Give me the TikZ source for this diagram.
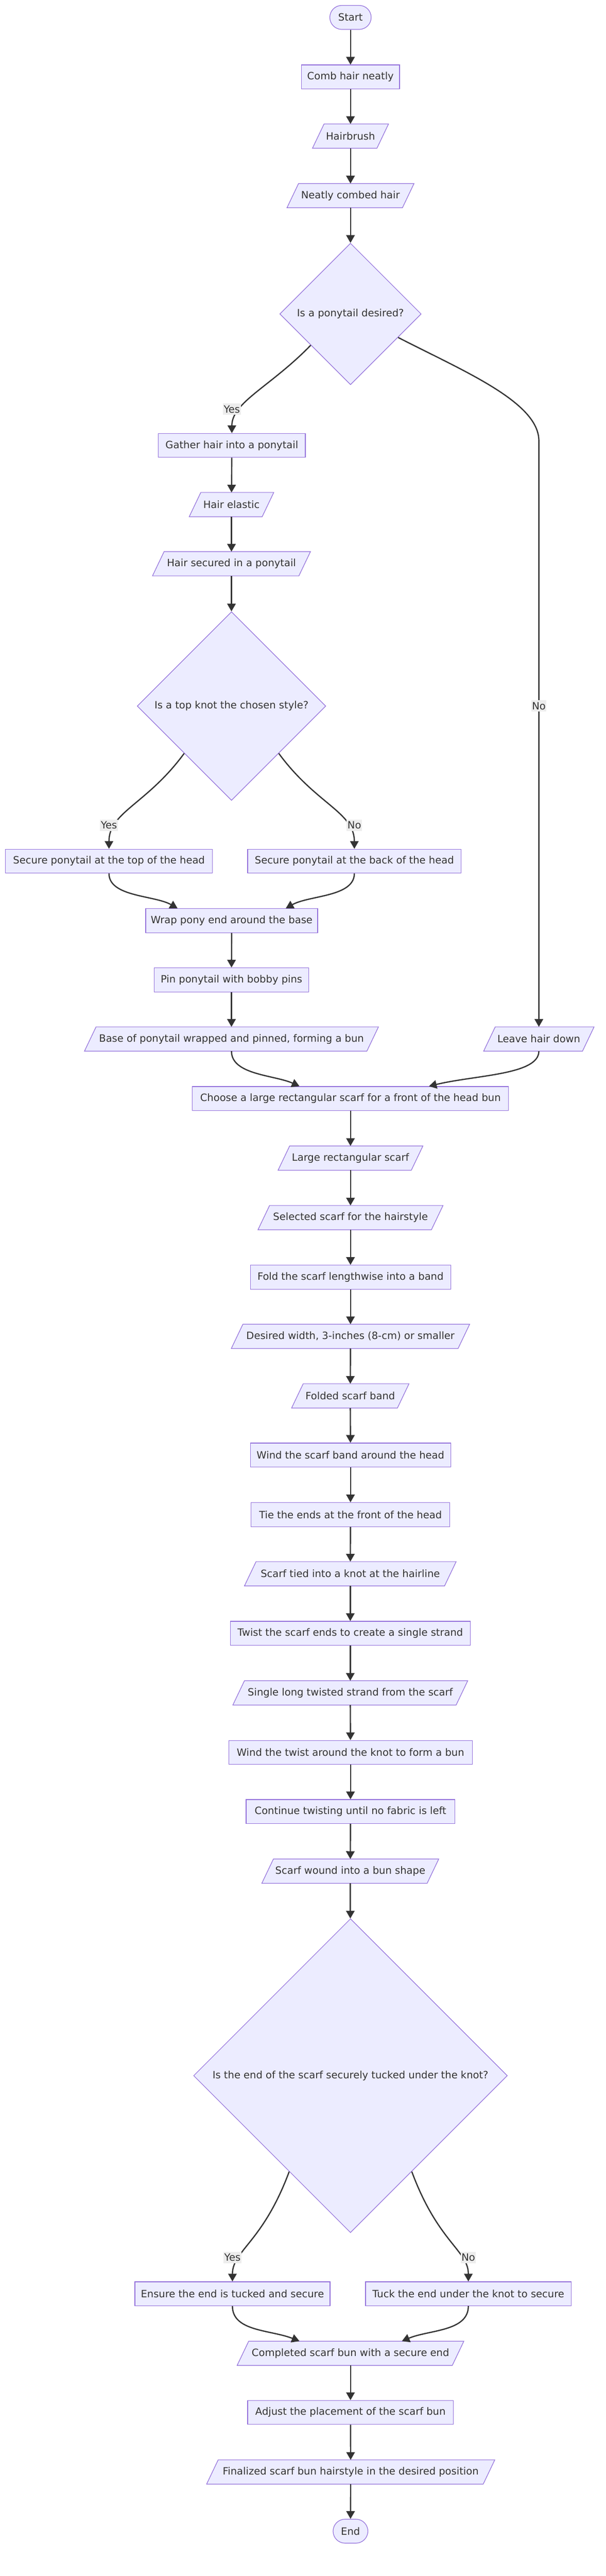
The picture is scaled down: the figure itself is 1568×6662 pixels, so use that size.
\documentclass[tikz,border=0pt]{standalone}
\usepackage{fontspec}
\setmainfont{DejaVu Sans}
\usetikzlibrary{shapes.geometric, arrows.meta, calc, backgrounds}
\definecolor{nodefill}{HTML}{ECECFF}
\definecolor{nodestroke}{HTML}{9370DB}
\definecolor{linecol}{HTML}{333333}
\definecolor{textcol}{HTML}{333333}
\definecolor{labelbg}{HTML}{EDEDED}
\newcommand\nfont{\fontsize{13pt}{15.6pt}\selectfont}
\tikzset{
  nodebase/.style={inner sep=0pt, minimum height=31pt, text=textcol, font=\nfont},
  proc/.style={nodebase, rectangle, draw=nodestroke, fill=nodefill, line width=0.8pt},
  io/.style={nodebase, rectangle},
  iobox/.style={draw=nodestroke, fill=nodefill, line width=0.8pt},
  term/.style={proc, rounded corners=15.5pt},
  decision/.style={nodebase, diamond, aspect=1, draw=nodestroke, fill=nodefill, line width=0.8pt},
  flow/.style={draw=linecol, line width=1.6pt, -{Triangle[length=10pt,width=11pt]}},
  elabel/.style={fill=labelbg, text=textcol, font=\nfont, inner xsep=1pt, inner ysep=2.5pt},
}
\begin{document}
\begin{tikzpicture}[x=0.5pt, y=-0.5pt]
\useasboundingbox (0,0) rectangle (1568,6662);

% nodes
\node[term, minimum width=53.5pt] (start) at (907,45) {Start};
\node[proc, minimum width=127pt] (comb) at (907,199) {Comb hair neatly};
\node[io, minimum width=98pt] (brush) at (907,352) {Hairbrush};
\node[io, minimum width=164pt] (neat) at (907,506) {Neatly combed hair};
\node[decision, minimum width=183pt, minimum height=183pt] (d1) at (907,812) {Is a ponytail desired?};
\node[proc, minimum width=190pt] (gather) at (600,1152) {Gather hair into a ponytail};
\node[io, minimum width=109pt] (elastic) at (599,1305) {Hair elastic};
\node[io, minimum width=204pt] (secured) at (599,1458) {Hair secured in a ponytail};
\node[decision, minimum width=244pt, minimum height=244pt] (d2) at (599,1826) {Is a top knot the chosen style?};
\node[proc, minimum width=267.5pt] (sectop) at (282,2227) {Secure ponytail at the top of the head};
\node[proc, minimum width=276pt] (secback) at (917,2227) {Secure ponytail at the back of the head};
\node[proc, minimum width=222.5pt] (wrap) at (599.5,2381) {Wrap pony end around the base};
\node[proc, minimum width=200pt] (pin) at (599,2534) {Pin ponytail with bobby pins};
\node[io, minimum width=380pt] (basepin) at (599,2687) {Base of ponytail wrapped and pinned, forming a bun};
\node[io, minimum width=142.5pt] (leave) at (1394.5,2687) {Leave hair down};
\node[proc, minimum width=409pt] (choose) at (907,2841) {Choose a large rectangular scarf for a front of the head bun};
\node[io, minimum width=187pt] (large) at (907,2995) {Large rectangular scarf};
\node[io, minimum width=239pt] (selected) at (907,3149) {Selected scarf for the hairstyle};
\node[proc, minimum width=259pt] (fold) at (907,3303) {Fold the scarf lengthwise into a band};
\node[io, minimum width=308pt] (desired) at (907,3456) {Desired width, 3-inches (8-cm) or smaller};
\node[io, minimum width=151.5pt] (folded) at (906.5,3610) {Folded scarf band};
\node[proc, minimum width=259pt] (wind) at (907,3763) {Wind the scarf band around the head};
\node[proc, minimum width=257pt] (tie) at (907,3917) {Tie the ends at the front of the head};
\node[io, minimum width=273.5pt] (knot) at (906.5,4070) {Scarf tied into a knot at the hairline};
\node[proc, minimum width=310.5pt] (twist) at (906.5,4224) {Twist the scarf ends to create a single strand};
\node[io, minimum width=303.5pt] (strand) at (906.5,4378) {Single long twisted strand from the scarf};
\node[proc, minimum width=315pt] (windtw) at (907,4532) {Wind the twist around the knot to form a bun};
\node[proc, minimum width=270pt] (cont) at (907,4685) {Continue twisting until no fabric is left};
\node[io, minimum width=228.5pt] (wound) at (906.5,4839) {Scarf wound into a bun shape};
\node[decision, minimum width=406pt, minimum height=406pt] (d3) at (907,5368) {Is the end of the scarf securely tucked under the knot?};
\node[proc, minimum width=252.5pt] (ensure) at (601.5,5932) {Ensure the end is tucked and secure};
\node[proc, minimum width=266pt] (tuck) at (1212,5932) {Tuck the end under the knot to secure};
\node[io, minimum width=293pt] (done) at (907,6086) {Completed scarf bun with a secure end};
\node[proc, minimum width=266pt] (adjust) at (907,6239) {Adjust the placement of the scarf bun};
\node[io, minimum width=372.5pt] (final) at (907.5,6393) {Finalized scarf bun hairstyle in the desired position};
\node[term, minimum width=45pt] (end) at (907,6546) {End};

% background: page and parallelograms
\begin{scope}[on background layer]
\fill[white] (0,0) rectangle (1568,6662);
\foreach \n in {brush,neat,elastic,secured,basepin,leave,large,selected,desired,folded,knot,strand,wound,done,final}
  \filldraw[iobox] (\n.south west) -- ([xshift=-15pt]\n.south east) -- (\n.north east) -- ([xshift=15pt]\n.north west) -- cycle;
\end{scope}

% straight connectors
\draw[flow] (start) -- (comb);
\draw[flow] (comb) -- (brush);
\draw[flow] (brush) -- (neat);
\draw[flow] (neat) -- (d1);
\draw[flow] (gather) -- (elastic);
\draw[flow] (elastic) -- (secured);
\draw[flow] (secured) -- (d2);
\draw[flow] (wrap) -- (pin);
\draw[flow] (pin) -- (basepin);
\draw[flow] (choose) -- (large);
\draw[flow] (large) -- (selected);
\draw[flow] (selected) -- (fold);
\draw[flow] (fold) -- (desired);
\draw[flow] (desired) -- (folded);
\draw[flow] (folded) -- (wind);
\draw[flow] (wind) -- (tie);
\draw[flow] (tie) -- (knot);
\draw[flow] (knot) -- (twist);
\draw[flow] (twist) -- (strand);
\draw[flow] (strand) -- (windtw);
\draw[flow] (windtw) -- (cont);
\draw[flow] (cont) -- (wound);
\draw[flow] (wound) -- (d3);
\draw[flow] (done) -- (adjust);
\draw[flow] (adjust) -- (final);
\draw[flow] (final) -- (end);

% curved connectors
\draw[flow] ($(d1.west)!0.44!(d1.south)$) .. controls (700,1000) and (600,1040) .. (gather.north);
\draw[flow] ($(d1.east)!0.33!(d1.south)$) .. controls (1200,960) and (1394.5,1040) .. (1394.5,1140) -- (leave.north);
\draw[flow] (d2.south west) .. controls (380,2080) and (282,2100) .. (sectop.north);
\draw[flow] (d2.south east) .. controls (818,2080) and (917,2100) .. (secback.north);
\draw[flow] (sectop.south) .. controls (282,2320) and (400,2315) .. ($(wrap.north)+(-140,0)$);
\draw[flow] (secback.south) .. controls (917,2320) and (800,2315) .. ($(wrap.north)+(140,0)$);
\draw[flow] (basepin.south) .. controls (599,2780) and (710,2780) .. ($(choose.north)+(-132,0)$);
\draw[flow] (leave.south) .. controls (1394.5,2780) and (1230,2780) .. ($(choose.north)+(203,0)$);
\draw[flow] ($(d3.west)!0.61!(d3.south)$) .. controls (680,5800) and (601.5,5820) .. (ensure.north);
\draw[flow] ($(d3.east)!0.61!(d3.south)$) .. controls (1134,5800) and (1212,5820) .. (tuck.north);
\draw[flow] (ensure.south) .. controls (601.5,6030) and (700,6025) .. ($(done.north)+(-132,0)$);
\draw[flow] (tuck.south) .. controls (1212,6030) and (1110,6025) .. ($(done.north)+(133,0)$);

% edge labels
\node[elabel] (ly1) at (600,1058) {Yes};
\node[elabel] (ln1) at (1394.5,1826) {No};
\node[elabel] (ly2) at (282,2134) {Yes};
\node[elabel] (ln2) at (917,2134) {No};
\node[elabel] (ly3) at (601.5,5838) {Yes};
\node[elabel] (ln3) at (1212,5838) {No};
\end{tikzpicture}
\end{document}
